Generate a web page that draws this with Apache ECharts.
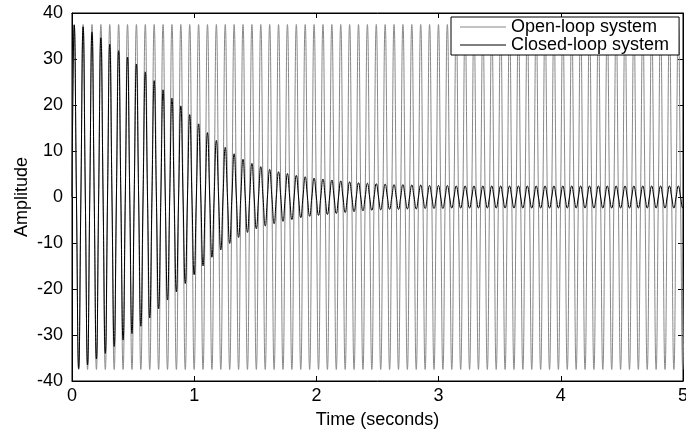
<!DOCTYPE html>
<html>
<head>
<meta charset="utf-8">
<script src="https://cdn.jsdelivr.net/npm/echarts@6/dist/echarts.min.js"></script>
<style>
html,body{margin:0;padding:0;background:#fff;}
#chart{width:686px;height:436px;}
</style>
</head>
<body>
<div id="chart"></div>
<script>
// ---- data ----
const seriesNames = ['Open-loop system', 'Closed-loop system'];
const xTicks = [0, 1, 2, 3, 4, 5];
const yTicks = [-40, -30, -20, -10, 0, 10, 20, 30, 40];
// oscillation period (s) of both responses
const cyclePeriod = 0.0727;
// open-loop: peak / trough value of each cycle
const openPeaks = [
  37.5,37.5,37.5,37.5,37.5,37.5,37.5,37.5,37.5,37.5,
  37.5,37.5,37.5,37.5,37.5,37.5,37.5,37.5,37.5,37.5,
  37.5,37.5,37.5,37.5,37.5,37.5,37.5,37.5,37.5,37.5,
  37.5,37.5,37.5,37.5,37.5,37.5,37.5,37.5,37.5,37.5,
  37.5,37.5,37.5,37.5,37.5,37.5,37.5,37.5,37.5,37.5,
  37.5,37.5,37.5,37.5,37.5,37.5,37.5,37.5,37.5,37.5,
  37.5,37.5,37.5,37.5,37.5,37.5,37.5,37.5,37.5
];
const openTroughs = [
  -37.5,-37.5,-37.5,-37.5,-37.5,-37.5,-37.5,-37.5,-37.5,-37.5,
  -37.5,-37.5,-37.5,-37.5,-37.5,-37.5,-37.5,-37.5,-37.5,-37.5,
  -37.5,-37.5,-37.5,-37.5,-37.5,-37.5,-37.5,-37.5,-37.5,-37.5,
  -37.5,-37.5,-37.5,-37.5,-37.5,-37.5,-37.5,-37.5,-37.5,-37.5,
  -37.5,-37.5,-37.5,-37.5,-37.5,-37.5,-37.5,-37.5,-37.5,-37.5,
  -37.5,-37.5,-37.5,-37.5,-37.5,-37.5,-37.5,-37.5,-37.5,-37.5,
  -37.5,-37.5,-37.5,-37.5,-37.5,-37.5,-37.5,-37.5,-37.5
];
// closed-loop: peak / trough value of each cycle
const closedPeaks = [
  37.4,37.0,35.8,34.6,33.2,31.8,30.4,28.9,27.2,25.3,
  23.3,21.5,19.8,17.9,15.9,14.0,12.3,10.8,9.4,8.2,
  7.3,6.6,6.0,5.5,5.1,4.7,4.4,4.1,3.9,3.7,
  3.5,3.3,3.1,3.0,2.9,2.8,2.7,2.7,2.6,2.6,
  2.5,2.5,2.5,2.4,2.4,2.4,2.4,2.4,2.4,2.4,
  2.4,2.4,2.4,2.4,2.4,2.4,2.4,2.4,2.4,2.4,
  2.4,2.4,2.4,2.4,2.4,2.4,2.4,2.4,2.4
];
const closedTroughs = [
  -37.3,-36.5,-35.2,-34.0,-32.5,-31.1,-29.7,-28.1,-26.3,-24.3,
  -22.4,-20.6,-18.8,-16.9,-15.0,-13.1,-11.5,-10.1,-8.8,-7.7,
  -6.9,-6.3,-5.8,-5.3,-4.9,-4.5,-4.2,-4.0,-3.8,-3.6,
  -3.4,-3.2,-3.0,-2.9,-2.8,-2.7,-2.7,-2.6,-2.6,-2.5,
  -2.5,-2.5,-2.4,-2.4,-2.4,-2.4,-2.4,-2.4,-2.4,-2.4,
  -2.4,-2.4,-2.4,-2.4,-2.4,-2.4,-2.4,-2.4,-2.4,-2.4,
  -2.4,-2.4,-2.4,-2.4,-2.4,-2.4,-2.4,-2.4,-2.4
];

// build [time, value] pairs: zero crossing, peak, zero crossing, trough per cycle
function buildWave(peaks, troughs) {
  const out = [];
  for (let k = 0; k < peaks.length; k++) {
    const t0 = k * cyclePeriod;
    out.push([+(t0).toFixed(5), 0]);
    out.push([+(t0 + cyclePeriod / 4).toFixed(5), peaks[k]]);
    out.push([+(t0 + cyclePeriod / 2).toFixed(5), 0]);
    out.push([+(t0 + 3 * cyclePeriod / 4).toFixed(5), troughs[k]]);
  }
  out.push([+(peaks.length * cyclePeriod).toFixed(5), 0]);
  return out;
}
const openData = buildWave(openPeaks, openTroughs);
const closedData = buildWave(closedPeaks, closedTroughs);

const FONT = 'Liberation Sans, Arial, sans-serif';
const chart = echarts.init(document.getElementById('chart'), null, {renderer: 'canvas'});
const baseAxis = {
  axisLine: {show: true, onZero: false, lineStyle: {color: '#000', width: 1}},
  axisTick: {show: true, inside: true, length: 5, lineStyle: {color: '#000'}},
  splitLine: {show: false}
};
chart.setOption({
  animation: false,
  backgroundColor: '#fff',
  textStyle: {fontFamily: FONT},
  grid: {left: 72, right: 3, top: 13, bottom: 55, show: true, borderColor: '#000', borderWidth: 1,
         backgroundColor: 'transparent', containLabel: false, outerBoundsMode: 'none'},
  legend: {
    data: seriesNames,
    left: 451, top: 17,
    orient: 'vertical',
    icon: 'rect',
    itemWidth: 46, itemHeight: 1,
    itemGap: 0,
    padding: [1, 10, 1, 9],
    backgroundColor: '#fff',
    borderColor: '#000', borderWidth: 1,
    textStyle: {fontFamily: FONT, fontSize: 18, color: '#000', lineHeight: 18, padding: [0, 0, 0, 0]},
    selectedMode: false
  },
  xAxis: [
    Object.assign({}, baseAxis, {
      type: 'value', min: xTicks[0], max: xTicks[xTicks.length - 1], interval: 1,
      position: 'bottom',
      name: 'Time (seconds)', nameLocation: 'middle', nameGap: 30, nameMoveOverlap: false,
      nameTextStyle: {fontFamily: FONT, fontSize: 18, color: '#000'},
      axisLabel: {fontFamily: FONT, fontSize: 18, color: '#000', margin: 6}
    }),
    Object.assign({}, baseAxis, {
      type: 'value', min: xTicks[0], max: xTicks[xTicks.length - 1], interval: 1,
      position: 'top', axisLabel: {show: false}
    })
  ],
  yAxis: [
    Object.assign({}, baseAxis, {
      type: 'value', min: yTicks[0], max: yTicks[yTicks.length - 1], interval: 10,
      position: 'left',
      name: 'Amplitude', nameLocation: 'middle', nameGap: 41, nameMoveOverlap: false,
      nameTextStyle: {fontFamily: FONT, fontSize: 18, color: '#000'},
      axisLabel: {fontFamily: FONT, fontSize: 18, color: '#000', margin: 9}
    }),
    Object.assign({}, baseAxis, {
      type: 'value', min: yTicks[0], max: yTicks[yTicks.length - 1], interval: 10,
      position: 'right', axisLabel: {show: false}
    })
  ],
  series: [
    {
      name: seriesNames[0], type: 'line', data: openData,
      xAxisIndex: 0, yAxisIndex: 0,
      showSymbol: false, symbol: 'none', smooth: 0.5,
      lineStyle: {color: '#888888', width: 1},
      itemStyle: {color: '#888888'},
      clip: true, z: 2
    },
    {
      name: seriesNames[1], type: 'line', data: closedData,
      xAxisIndex: 0, yAxisIndex: 0,
      showSymbol: false, symbol: 'none', smooth: 0.5,
      lineStyle: {color: '#000', width: 1},
      itemStyle: {color: '#000'},
      clip: true, z: 3
    }
  ]
});
</script>
</body>
</html>
